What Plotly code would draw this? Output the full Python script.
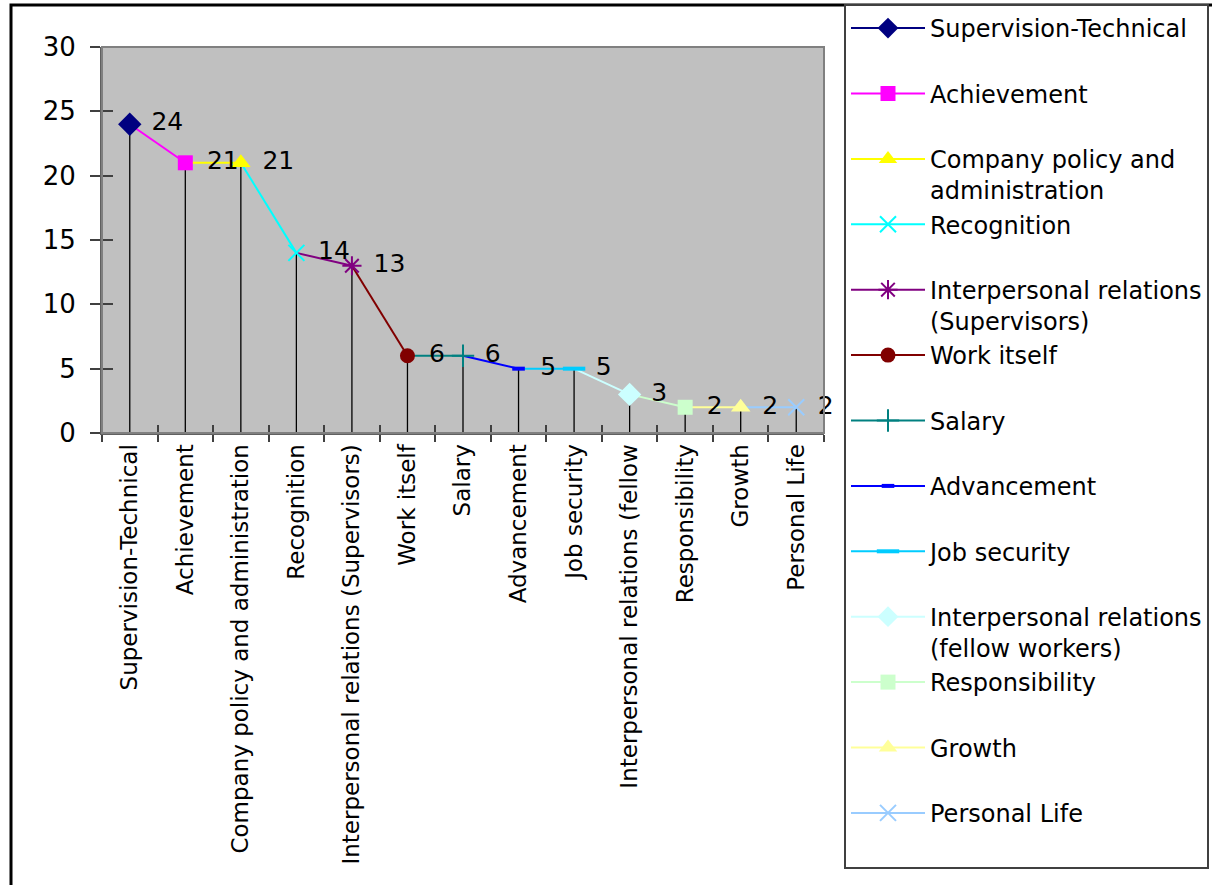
import plotly.graph_objects as go

# ---- data -------------------------------------------------------------
categories = [
    "Supervision-Technical", "Achievement", "Company policy and administration",
    "Recognition", "Interpersonal relations (Supervisors)", "Work itself",
    "Salary", "Advancement", "Job security", "Interpersonal relations (fellow",
    "Responsibility", "Growth", "Personal Life",
]
legend_names = [
    "Supervision-Technical", "Achievement", "Company policy and<br>administration",
    "Recognition", "Interpersonal relations<br>(Supervisors)", "Work itself",
    "Salary", "Advancement", "Job security",
    "Interpersonal relations<br>(fellow workers)", "Responsibility", "Growth",
    "Personal Life",
]
values = [24, 21, 21, 14, 13, 6, 6, 5, 5, 3, 2, 2, 2]

# ---- styles -----------------------------------------------------------
colors = ["#000080", "#FF00FF", "#FFFF00", "#00FFFF", "#800080", "#800000",
          "#008080", "#0000FF", "#00CCFF", "#CCFFFF", "#CCFFCC", "#FFFF99",
          "#99CCFF"]
symbols = ["diamond", "square", "triangle-up", "x-thin-open", "asterisk-open",
           "circle", "cross-thin-open", "line-ew-open", "line-ew-open",
           "diamond", "square", "triangle-up", "x-thin-open"]
sizes = [18, 15, 17, 16, 16, 15, 16, 9, 16, 18, 15, 17, 16]
line_w = [0, 0, 0, 2, 2, 0, 2, 4, 4, 0, 0, 0, 2]

W, H = 1212, 885
ML, MR, MT, MB = 102, 388, 47, 452
PW, PH = W - ML - MR, H - MT - MB


def px_x(px):
    return (px - ML) / PW


def px_y(py):
    return (H - MB - py) / PH


FONT = "DejaVu Sans"

fig = go.Figure()

# drop lines from each point to the axis
fig.add_trace(go.Scatter(
    x=categories, y=values, mode="markers",
    marker=dict(size=1, opacity=0),
    error_y=dict(type="data", symmetric=False, array=[0] * len(values),
                 arrayminus=values, color="black", thickness=1.3, width=0),
    showlegend=False, hoverinfo="skip",
))

# connecting segments, each coloured like the point it leads to
for i in range(1, len(values)):
    fig.add_trace(go.Scatter(
        x=categories[i - 1:i + 1], y=values[i - 1:i + 1], mode="lines",
        line=dict(color=colors[i], width=2),
        showlegend=False, hoverinfo="skip",
    ))

# one marker series per category (these make up the legend)
for i, cat in enumerate(categories):
    name = legend_names[i]
    if "<br>" not in name:
        name = name + "<br>\u00a0"
    fig.add_trace(go.Scatter(
        x=[cat], y=[values[i]], mode="lines+markers", name=name,
        line=dict(color=colors[i], width=2),
        marker=dict(symbol=symbols[i], size=sizes[i], color=colors[i],
                    line=dict(color=colors[i], width=line_w[i])),
    ))

# value labels
fig.add_trace(go.Scatter(
    x=categories, y=values, mode="markers+text",
    text=[str(v) for v in values], textposition="middle right",
    textfont=dict(family=FONT, size=25, color="black"),
    marker=dict(size=33, opacity=0),
    cliponaxis=False, showlegend=False, hoverinfo="skip",
    xaxis="x2", yaxis="y2",
))

axis_common = dict(showgrid=False, zeroline=False, automargin=False)

fig.update_layout(
    template="none",
    width=W, height=H,
    margin=dict(l=ML, r=MR, t=MT, b=MB, pad=0),
    paper_bgcolor="white",
    plot_bgcolor="#C0C0C0",
    font=dict(family=FONT, color="black"),
    xaxis=dict(
        **axis_common, type="category", categoryorder="array",
        categoryarray=categories, range=[-0.5, len(categories) - 0.5],
        tickson="boundaries", ticks="outside", ticklen=7, tickwidth=1.5,
        tickcolor="#404040", showline=True, linecolor="#606060", linewidth=2,
        tickangle=-90, tickfont=dict(family=FONT, size=23, color="black"),
    ),
    xaxis2=dict(
        **axis_common, type="category", categoryorder="array",
        categoryarray=categories, range=[-0.5, len(categories) - 0.5],
        overlaying="x", side="bottom", tickson="boundaries",
        ticks="inside", ticklen=8, tickwidth=1.5, tickcolor="#404040",
        showticklabels=False, showline=False,
    ),
    yaxis=dict(
        **axis_common, range=[0, 30], dtick=5, tick0=0,
        ticks="outside", ticklen=10, tickwidth=1.5, tickcolor="#404040",
        showline=True, linecolor="#606060", linewidth=2,
        ticklabelstandoff=9,
        tickfont=dict(family=FONT, size=26, color="black"),
    ),
    yaxis2=dict(
        **axis_common, range=[0, 30], dtick=5, tick0=0, overlaying="y",
        side="left", ticks="inside", ticklen=11, tickwidth=1.5,
        tickcolor="#404040", showticklabels=False, showline=False,
    ),
    legend=dict(
        xref="container", yref="container",
        x=844 / W, y=1 - 4 / H, xanchor="left", yanchor="top",
        bgcolor="white", bordercolor="#404040", borderwidth=2,
        font=dict(family=FONT, size=24, color="black"),
        itemwidth=74, valign="top", tracegroupgap=0, traceorder="normal",
        maxheight=880,
    ),
    shapes=[
        # plot-area frame
        dict(type="rect", xref="paper", yref="paper", x0=0, x1=1, y0=0, y1=1,
             line=dict(color="#808080", width=2), layer="above"),
        # outer chart frame
        dict(type="rect", xref="paper", yref="paper",
             x0=px_x(11), x1=px_x(1230), y0=px_y(900), y1=px_y(5),
             line=dict(color="black", width=3), layer="above"),
    ],
)

fig.write_html("out.html")
